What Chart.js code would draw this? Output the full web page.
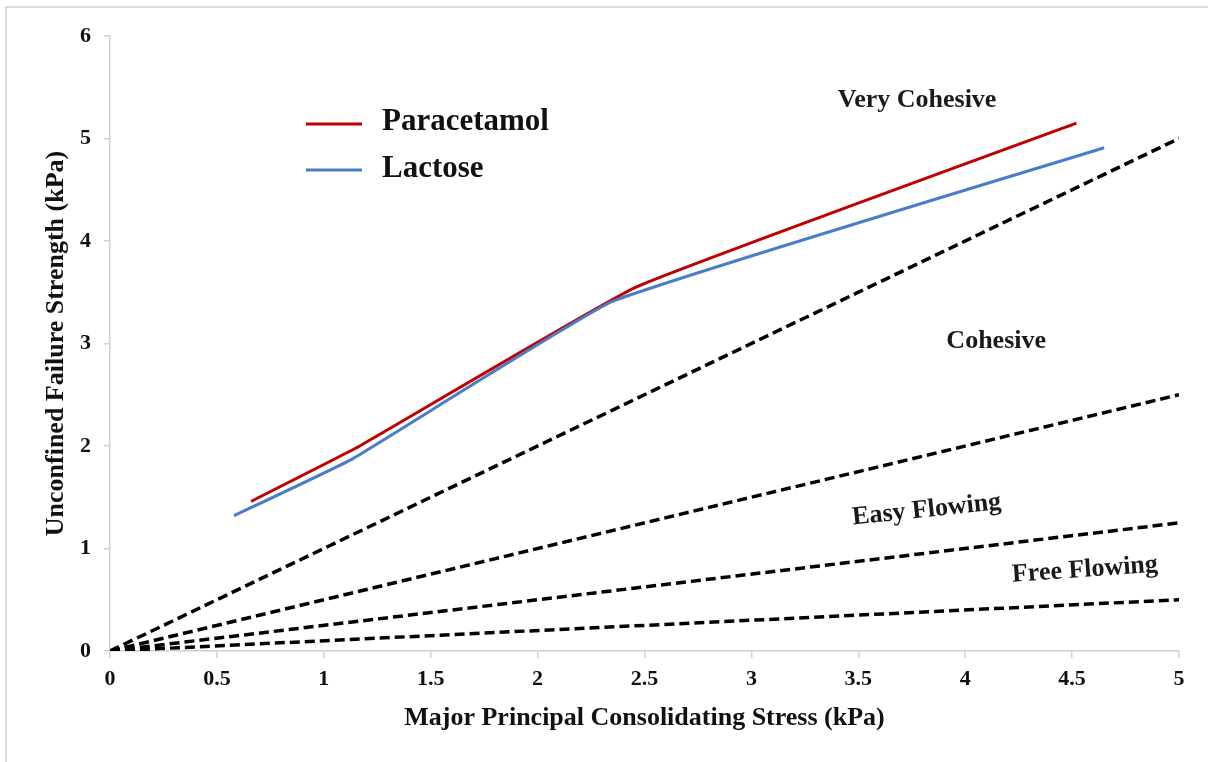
<!DOCTYPE html>
<html>
<head>
<meta charset="utf-8">
<script src="https://cdn.jsdelivr.net/npm/chart.js@4.4.1/dist/chart.umd.min.js"></script>
<style>
  html, body { margin: 0; padding: 0; background: #ffffff; }
  #wrap { position: relative; width: 1208px; height: 762px; overflow: hidden; }
  #frame { position: absolute; left: 5px; top: 6px; width: 1300px; height: 900px;
           border-left: 2px solid #dcdcdc; border-top: 2px solid #dcdcdc; pointer-events: none; }
  canvas { position: absolute; left: 0; top: 0; }
</style>
</head>
<body>
<div id="wrap">
  <canvas id="c" width="1208" height="762"></canvas>
  <div id="frame"></div>
</div>
<script>
// ---- data ----
const seriesNames = ["Paracetamol", "Lactose"];
const paracetamolX = [0.66, 1.15, 2.46, 4.52];
const paracetamolY = [1.46, 1.98, 3.55, 5.15];
const lactoseX = [0.58, 1.13, 2.35, 4.65];
const lactoseY = [1.32, 1.87, 3.41, 4.91];

// flow-function boundary lines (ffc = 1, 2, 4, 10)
const boundaryX = [0, 5];
const ffc1Y = [0, 5];
const ffc2Y = [0, 2.5];
const ffc4Y = [0, 1.25];
const ffc10Y = [0, 0.5];

const regionLabels = ["Very Cohesive", "Cohesive", "Easy Flowing", "Free Flowing"];
const regionLabelX = [3.775, 4.145, 3.82, 4.56];
const regionLabelY = [5.37, 3.02, 1.375, 0.79];
const regionLabelAngle = [0, 0, -6, -4];

const xTicks = [0, 0.5, 1, 1.5, 2, 2.5, 3, 3.5, 4, 4.5, 5];
const yTicks = [0, 1, 2, 3, 4, 5, 6];

const xTitle = "Major Principal Consolidating Stress (kPa)";
const yTitle = "Unconfined Failure Strength (kPa)";

// ---- helpers ----
const pts = (xs, ys) => xs.map((x, i) => ({ x: x, y: ys[i] }));
const SERIF = "'Liberation Serif', 'Times New Roman', serif";
const RED = "#C00000";
const BLUE = "#4A7CC9";

function boundary(ys) {
  return {
    data: pts(boundaryX, ys),
    borderColor: "#000000",
    borderWidth: 3.5,
    borderDash: [10, 5],
    pointRadius: 0,
    showLine: true,
    tension: 0,
    fill: false
  };
}

const labelPlugin = {
  id: "regionLabels",
  afterDatasetsDraw(chart) {
    const ctx = chart.ctx;
    const xs = chart.scales.x, ys = chart.scales.y;
    ctx.save();
    ctx.fillStyle = "#1a1a1a";
    ctx.font = "bold 26px " + SERIF;
    ctx.textAlign = "center";
    ctx.textBaseline = "middle";
    regionLabels.forEach((t, i) => {
      const px = xs.getPixelForValue(regionLabelX[i]);
      const py = ys.getPixelForValue(regionLabelY[i]);
      ctx.save();
      ctx.translate(px, py);
      ctx.rotate(regionLabelAngle[i] * Math.PI / 180);
      ctx.fillText(t, 0, 0);
      ctx.restore();
    });
    ctx.restore();
  }
};

const legendPlugin = {
  id: "customLegend",
  afterDraw(chart) {
    const ctx = chart.ctx;
    const colors = [RED, BLUE];
    const rowY = [124, 170];
    const baseY = [130, 177];
    ctx.save();
    seriesNames.forEach((name, i) => {
      ctx.strokeStyle = colors[i];
      ctx.lineWidth = 3;
      ctx.beginPath();
      ctx.moveTo(306, rowY[i]);
      ctx.lineTo(362, rowY[i]);
      ctx.stroke();
      ctx.fillStyle = "#111111";
      ctx.font = "bold 31px " + SERIF;
      ctx.textAlign = "left";
      ctx.textBaseline = "alphabetic";
      ctx.fillText(name, 382, baseY[i]);
    });
    ctx.restore();
  }
};

new Chart(document.getElementById("c"), {
  type: "scatter",
  data: {
    datasets: [
      boundary(ffc1Y),
      boundary(ffc2Y),
      boundary(ffc4Y),
      boundary(ffc10Y),
      {
        label: seriesNames[1],
        data: pts(lactoseX, lactoseY),
        borderColor: BLUE,
        borderWidth: 3,
        pointRadius: 0,
        showLine: true,
        tension: 0.1,
        fill: false
      },
      {
        label: seriesNames[0],
        data: pts(paracetamolX, paracetamolY),
        borderColor: RED,
        borderWidth: 3,
        pointRadius: 0,
        showLine: true,
        tension: 0.1,
        fill: false
      }
    ]
  },
  options: {
    responsive: false,
    animation: false,
    layout: { padding: { left: 0, top: 36, right: 29, bottom: 0 } },
    plugins: { legend: { display: false }, tooltip: { enabled: false } },
    scales: {
      x: {
        type: "linear",
        min: 0, max: 5,
        afterBuildTicks: (s) => { s.ticks = xTicks.map(v => ({ value: v })); },
        afterFit: (s) => { s.height = 111; },
        grid: { display: true, drawOnChartArea: false, drawTicks: true, tickLength: 7, color: "#d0d0d0", lineWidth: 1.5 },
        border: { display: true, color: "#d0d0d0", width: 1.5 },
        ticks: {
          color: "#111111",
          font: { family: SERIF, size: 22, weight: "bold" },
          padding: 8,
          maxRotation: 0,
          autoSkip: false,
          callback: (v) => String(v)
        },
        title: {
          display: true,
          text: xTitle,
          color: "#111111",
          font: { family: SERIF, size: 26, weight: "bold" },
          padding: { top: 0, bottom: 28 }
        }
      },
      y: {
        type: "linear",
        min: 0, max: 6,
        afterBuildTicks: (s) => { s.ticks = yTicks.map(v => ({ value: v })); },
        afterFit: (s) => { s.width = 110; },
        grid: { display: true, drawOnChartArea: false, drawTicks: true, tickLength: 6, color: "#d0d0d0", lineWidth: 1.5 },
        border: { display: true, color: "#d0d0d0", width: 1.5 },
        ticks: {
          color: "#111111",
          font: { family: SERIF, size: 22, weight: "bold" },
          padding: 13,
          autoSkip: false,
          callback: (v) => String(v)
        },
        title: {
          display: true,
          text: yTitle,
          color: "#111111",
          font: { family: SERIF, size: 26, weight: "bold" },
          padding: { top: 41, bottom: 0 }
        }
      }
    }
  },
  plugins: [labelPlugin, legendPlugin]
});
</script>
</body>
</html>
